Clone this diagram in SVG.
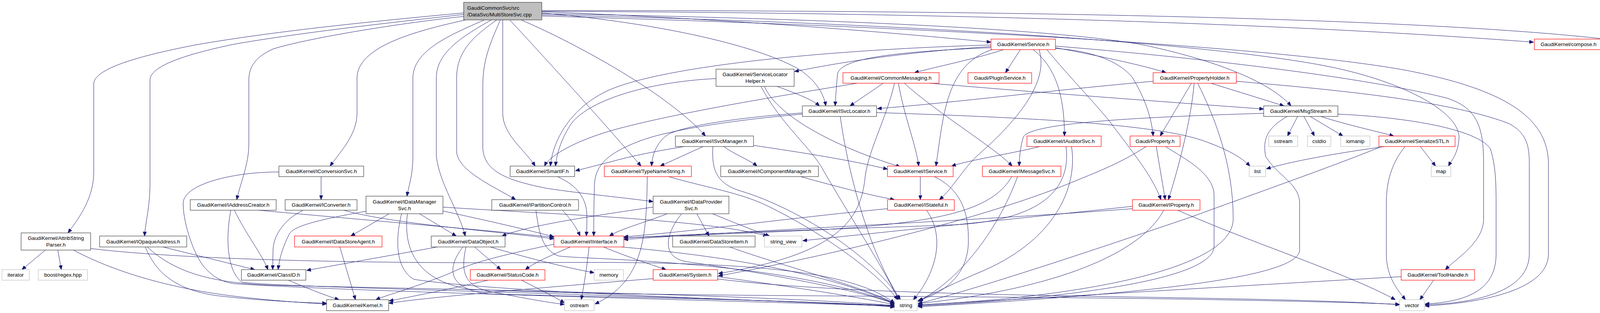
<svg xmlns="http://www.w3.org/2000/svg" width="4199" height="801" viewBox="0 0 4199 801">
<style>
.e{fill:none;stroke:#191970;stroke-width:1;marker-end:url(#a)}
.b{fill:#fff;stroke:#404040;stroke-width:1.2}
.r{fill:#fff;stroke:#ff0000;stroke-width:1.2}
.g{fill:#fff;stroke:#bfbfbf;stroke-width:1.2}
.rt{fill:#bfbfbf;stroke:#404040;stroke-width:1.2}
text{font-family:"Liberation Sans",Arial,Helvetica,sans-serif;font-size:13.33px;fill:#000;text-anchor:middle}
text.l{text-anchor:start}
</style>
<defs>
<marker id="a" markerWidth="11" markerHeight="9" refX="11" refY="4.5" orient="auto" markerUnits="userSpaceOnUse"><path d="M0,0 L11,4.5 L0,9 z" fill="#191970" stroke="#191970" stroke-width="1"/></marker>
</defs>
<rect x="0" y="0" width="4199" height="801" fill="#fff"/>
<g id="edges">
<path class="e" d="M1187,33 C950,55 700,80 500,115 C330,148 240,180 240,215 L240,440 C240,505 205,555 174,596"/>
<path class="e" d="M1187,37 C980,60 760,85 600,113 C470,140 384,170 384,205 L384,470 C384,530 372,570 370,604"/>
<path class="e" d="M1187,42 C1000,62 780,100 700,125 C655,145 637,170 637,205 L637,370 C637,420 615,470 606,511"/>
<path class="e" d="M1192,51 C1060,80 914,120 914,200 L914,290 C914,345 870,390 845,425"/>
<path class="e" d="M1240,51 C1150,90 1057,130 1057,200 L1057,400 C1057,450 1045,480 1042,502"/>
<path class="e" d="M1258,51 C1170,100 1117,140 1117,200 L1117,400 C1125,470 1175,540 1191,604"/>
<path class="e" d="M1272,51 C1200,100 1169,140 1169,200 L1169,390 C1175,440 1270,480 1320,511"/>
<path class="e" d="M1281,51 C1250,120 1236,160 1236,220 L1236,380 C1240,440 1300,462 1400,482 C1500,497 1600,506 1672,516"/>
<path class="e" d="M1287,51 L1287,290 C1287,345 1345,385 1370,425"/>
<path class="e" d="M1305,51 C1420,175 1560,330 1641,425"/>
<path class="e" d="M1334,51 C1450,100 1700,230 1806,348"/>
<path class="e" d="M1387,33 C1700,60 1950,120 2050,180 C2085,205 2108,235 2114,271"/>
<path class="e" d="M1387,30 C1900,50 2300,85 2537,108"/>
<path class="e" d="M1387,35 C2300,50 2800,85 2950,120 C3150,165 3260,220 3305,271"/>
<path class="e" d="M1387,29 C2400,32 3300,60 3926,108"/>
<path class="e" d="M1387,27 C2400,26 3600,40 4127,102"/>
<path class="e" d="M1387,38 C2300,58 3100,110 3400,170 C3600,210 3740,290 3735,355 C3732,395 3716,410 3708,425"/>
<path class="e" d="M1387,41 C2500,72 3300,125 3600,180 C3850,228 3964,300 3964,420 L3964,650 C3964,740 3800,775 3648,783"/>
<path class="e" d="M2569,127 C2500,150 2400,170 2341,186"/>
<path class="e" d="M2612,127 L2574,186"/>
<path class="e" d="M2537,119 C2300,135 2150,160 2034,183"/>
<path class="e" d="M2537,122 C2300,132 2150,148 2144,190 C2141,225 2139,250 2138,271"/>
<path class="e" d="M2537,115 C2100,128 1700,170 1560,230 C1460,275 1415,360 1409,425"/>
<path class="e" d="M2702,122 C2800,140 2930,168 2985,186"/>
<path class="e" d="M2702,124 C2800,130 2870,160 2900,200 C2930,250 2948,300 2952,348"/>
<path class="e" d="M2680,127 C2740,200 2800,260 2840,310 C2900,390 2950,450 2972,511"/>
<path class="e" d="M2645,127 C2700,170 2725,240 2725,348"/>
<path class="e" d="M2540,127 C2420,165 2415,300 2396,425"/>
<path class="e" d="M2660,127 C2690,220 2580,330 2500,400 C2460,440 2440,480 2405,511"/>
<path class="e" d="M2702,118 C3100,150 3500,200 3700,250 C3785,275 3798,330 3798,420 L3798,560 C3798,620 3730,660 3700,690"/>
<path class="e" d="M2194,213 C2000,245 1750,285 1580,330 C1470,360 1405,400 1394,425"/>
<path class="e" d="M2261,213 L2176,271"/>
<path class="e" d="M2290,213 C2270,300 2225,380 2215,450 C2205,560 2150,650 1839,700"/>
<path class="e" d="M2300,213 C2315,300 2345,370 2352,425"/>
<path class="e" d="M2315,213 C2400,290 2550,380 2591,425"/>
<path class="e" d="M2380,213 C2700,240 3000,262 3235,279"/>
<path class="e" d="M2952,208 C2700,230 2450,262 2246,278"/>
<path class="e" d="M3100,213 L3287,271"/>
<path class="e" d="M3050,213 L2970,348"/>
<path class="e" d="M3057,213 C3050,300 3020,420 2991,511"/>
<path class="e" d="M3066,213 C3110,300 3157,420 3157,560 C3157,700 2700,765 2350,780"/>
<path class="e" d="M3165,208 C3400,228 3700,255 3860,315 C3912,340 3915,380 3915,420 L3915,650 C3915,745 3780,776 3648,780"/>
<path class="e" d="M1833,201 C1650,210 1500,260 1460,320 C1435,360 1425,395 1422,425"/>
<path class="e" d="M1989,221 C2040,240 2080,255 2098,271"/>
<path class="e" d="M1957,221 C1990,300 2150,380 2305,427"/>
<path class="e" d="M1948,221 C2000,320 2080,380 2110,440 C2180,560 2270,700 2300,767"/>
<path class="e" d="M2244,288 C2600,300 2950,315 3080,360 C3150,385 3180,405 3200,425"/>
<path class="e" d="M2151,298 C2165,400 2210,620 2305,767"/>
<path class="e" d="M2054,289 C1900,300 1760,320 1712,343 C1685,360 1670,390 1668,425"/>
<path class="e" d="M2054,292 C1900,305 1720,330 1640,360 C1560,390 1525,420 1522,470 C1520,530 1520,570 1520,604"/>
<path class="e" d="M1853,375 C1880,395 1920,410 1938,425"/>
<path class="e" d="M1800,375 L1690,425"/>
<path class="e" d="M1752,375 C1690,385 1620,398 1560,415 C1520,425 1495,432 1473,437"/>
<path class="e" d="M1929,372 C2050,390 2180,410 2272,433"/>
<path class="e" d="M1825,375 C1822,430 1830,470 1900,490 C2000,520 2150,600 2250,700 C2280,730 2295,750 2300,767"/>
<path class="e" d="M2662,375 C2580,395 2480,410 2436,425"/>
<path class="e" d="M2729,375 C2740,460 2700,560 2450,575 C2200,585 1900,592 1597,609"/>
<path class="e" d="M2743,375 C2760,480 2700,620 2500,700 C2420,735 2370,760 2350,772"/>
<path class="e" d="M2960,375 L2983,511"/>
<path class="e" d="M2984,375 C3020,400 3108,440 3108,500 L3108,630 C3108,720 2700,765 2350,783"/>
<path class="e" d="M2934,375 C2880,410 2830,432 2760,460 C2550,550 2150,650 1839,706"/>
<path class="e" d="M2899,528 C2600,560 2300,590 2055,616"/>
<path class="e" d="M2899,534 C2500,565 2000,585 1597,613"/>
<path class="e" d="M2979,538 C2920,650 2700,740 2350,777"/>
<path class="e" d="M3015,538 C3200,620 3450,700 3572,767"/>
<path class="e" d="M2356,452 L2356,511"/>
<path class="e" d="M2392,452 C2470,490 2480,560 2479,620 C2478,700 2420,750 2350,769"/>
<path class="e" d="M2272,534 C2000,560 1800,590 1597,606"/>
<path class="e" d="M2372,538 C2430,620 2380,720 2338,767"/>
<path class="e" d="M2590,452 C2540,540 2400,570 2100,588 C1850,600 1680,605 1597,609"/>
<path class="e" d="M2605,452 C2550,600 2450,720 2352,770"/>
<path class="e" d="M2050,452 C2150,480 2230,500 2290,511"/>
<path class="e" d="M3235,290 C2900,300 2640,315 2620,350 C2612,375 2610,400 2609,425"/>
<path class="e" d="M3322,298 L3296,348"/>
<path class="e" d="M3338,298 L3365,348"/>
<path class="e" d="M3354,298 L3438,348"/>
<path class="e" d="M3381,298 C3450,320 3520,335 3568,348"/>
<path class="e" d="M3295,298 C3240,330 3233,360 3240,400 C3270,450 3327,470 3327,520 L3327,640 C3327,720 2800,760 2350,785"/>
<path class="e" d="M3425,292 C3600,300 3780,330 3815,380 C3828,420 3830,460 3830,520 L3830,650 C3830,740 3760,772 3648,778"/>
<path class="e" d="M3545,375 C3400,395 3300,415 3242,432"/>
<path class="e" d="M3636,375 L3675,425"/>
<path class="e" d="M3597,375 C3560,420 3549,470 3549,520 L3549,650 C3549,710 3580,745 3598,767"/>
<path class="e" d="M3532,377 C3400,430 3200,500 3050,555 C2800,640 2500,740 2350,777"/>
<path class="e" d="M3587,708 C3200,730 2700,760 2350,781"/>
<path class="e" d="M3670,717 L3635,767"/>
<path class="e" d="M1657,452 C1655,600 1650,720 1523,778"/>
<path class="e" d="M1712,452 C1800,478 1880,490 1950,520 C2100,590 2250,700 2298,767"/>
<path class="e" d="M1868,632 C2000,680 2200,730 2290,776"/>
<path class="e" d="M116,640 L56,690"/>
<path class="e" d="M148,640 L157,690"/>
<path class="e" d="M188,640 C300,700 450,740 600,758 C700,770 780,775 836,778"/>
<path class="e" d="M232,636 C500,668 1000,674 1400,672 C1900,668 2180,690 2290,776"/>
<path class="e" d="M417,632 L652,690"/>
<path class="e" d="M372,632 C400,700 450,740 550,756 C650,768 760,774 836,776"/>
<path class="e" d="M377,632 C450,700 550,725 700,730 C1200,742 1900,752 2290,782"/>
<path class="e" d="M600,538 C630,600 670,650 686,690"/>
<path class="e" d="M662,538 C900,560 1200,585 1418,607"/>
<path class="e" d="M591,538 C575,620 585,700 620,722 C700,735 1500,750 2290,782"/>
<path class="e" d="M822,452 L822,511"/>
<path class="e" d="M714,440 C600,440 470,470 469,520 C468,560 490,640 520,680 C545,710 570,722 600,726 C900,746 1700,765 2290,783"/>
<path class="e" d="M776,538 C730,560 700,600 699,640 L698,690"/>
<path class="e" d="M880,538 C1000,572 1250,590 1418,611"/>
<path class="e" d="M940,540 C800,565 750,580 740,600 C725,630 715,660 712,690"/>
<path class="e" d="M996,547 L898,604"/>
<path class="e" d="M1074,547 L1168,604"/>
<path class="e" d="M1134,540 C1250,565 1350,588 1418,606"/>
<path class="e" d="M1134,530 C1400,548 1800,560 1965,604"/>
<path class="e" d="M1028,547 C1010,620 1015,690 1060,715 C1300,750 1900,765 2290,784"/>
<path class="e" d="M1043,547 C1030,650 1080,720 1200,740 C1600,760 2300,755 3000,765 C3300,770 3500,775 3583,779"/>
<path class="e" d="M870,632 L910,767"/>
<path class="e" d="M1120,632 L785,692"/>
<path class="e" d="M1215,632 L1282,690"/>
<path class="e" d="M1255,632 C1350,660 1450,685 1521,698"/>
<path class="e" d="M1193,632 C1180,690 1185,730 1250,745 C1350,765 1410,775 1445,779"/>
<path class="e" d="M1185,632 C1140,690 1150,740 1250,752 C1600,762 2100,768 2290,786"/>
<path class="e" d="M1440,538 C1460,560 1475,580 1485,604"/>
<path class="e" d="M1372,538 C1380,600 1390,640 1430,655 C1500,665 2000,665 2290,777"/>
<path class="e" d="M1708,547 C1650,570 1590,585 1560,604"/>
<path class="e" d="M1672,530 C1500,555 1350,578 1285,604"/>
<path class="e" d="M1784,547 L1815,604"/>
<path class="e" d="M1824,547 C1880,570 1930,590 1970,604"/>
<path class="e" d="M1745,547 C1702,600 1692,660 1760,670 C1900,690 2200,740 2290,778"/>
<path class="e" d="M1427,452 C1480,475 1500,510 1502,545 C1503,570 1502,590 1501,604"/>
<path class="e" d="M1418,625 C1300,650 1210,670 1150,700 C1050,740 990,755 962,767"/>
<path class="e" d="M1460,632 C1420,650 1370,670 1345,690"/>
<path class="e" d="M1508,632 C1503,680 1495,730 1488,767"/>
<path class="e" d="M1545,632 C1600,655 1660,675 1705,690"/>
<path class="e" d="M1590,632 C1800,650 2100,690 2290,777"/>
<path class="e" d="M1672,713 C1400,735 1100,760 995,776"/>
<path class="e" d="M1837,708 C2000,730 2200,760 2290,780"/>
<path class="e" d="M1837,714 C2200,758 2800,755 3300,768 C3450,772 3530,776 3583,780"/>
<path class="e" d="M1250,717 C1150,740 1050,760 996,770"/>
<path class="e" d="M1335,717 C1380,740 1420,760 1445,775"/>
<path class="e" d="M738,717 C780,735 830,755 868,767"/>
</g>
<g id="n_root"><rect class="rt" x="1187" y="6" width="200" height="45"/><text class="l" x="1196" y="24.5">GaudiCommonSvc/src</text><text class="l" x="1196" y="41.5">/DataSvc/MultiStoreSvc.cpp</text></g>
<g id="n_service"><rect class="r" x="2537" y="100" width="165" height="27"/><text x="2619.5" y="118">GaudiKernel/Service.h</text></g>
<g id="n_compose"><rect class="r" x="3928" y="100" width="175" height="27"/><text x="4015.5" y="118">GaudiKernel/compose.h</text></g>
<g id="n_variant"><rect class="g" x="4127" y="100" width="68" height="27"/><text x="4161" y="118">variant</text></g>
<g id="n_commonmessaging"><rect class="r" x="2158" y="186" width="246" height="27"/><text x="2281" y="204">GaudiKernel/CommonMessaging.h</text></g>
<g id="n_pluginservice"><rect class="r" x="2478" y="186" width="163" height="27"/><text x="2559.5" y="204">Gaudi/PluginService.h</text></g>
<g id="n_propertyholder"><rect class="r" x="2952" y="186" width="213" height="27"/><text x="3058.5" y="204">GaudiKernel/PropertyHolder.h</text></g>
<g id="n_servicelocatorhelper"><rect class="b" x="1833" y="177" width="200" height="44"/><text x="1933" y="195">GaudiKernel/ServiceLocator</text><text x="1933" y="212">Helper.h</text></g>
<g id="n_isvclocator"><rect class="b" x="2054" y="271" width="190" height="27"/><text x="2149" y="289">GaudiKernel/ISvcLocator.h</text></g>
<g id="n_msgstream"><rect class="b" x="3235" y="271" width="190" height="27"/><text x="3330" y="289">GaudiKernel/MsgStream.h</text></g>
<g id="n_isvcmanager"><rect class="b" x="1729" y="348" width="200" height="27"/><text x="1829" y="366">GaudiKernel/ISvcManager.h</text></g>
<g id="n_iauditorsvc"><rect class="r" x="2629" y="348" width="190" height="27"/><text x="2724" y="366">GaudiKernel/IAuditorSvc.h</text></g>
<g id="n_property"><rect class="r" x="2893" y="348" width="128" height="27"/><text x="2957" y="366">Gaudi/Property.h</text></g>
<g id="n_sstream"><rect class="g" x="3248" y="348" width="74" height="27"/><text x="3285" y="366">sstream</text></g>
<g id="n_cstdio"><rect class="g" x="3347" y="348" width="60" height="27"/><text x="3377" y="366">cstdio</text></g>
<g id="n_iomanip"><rect class="g" x="3432" y="348" width="75" height="27"/><text x="3469.5" y="366">iomanip</text></g>
<g id="n_serializestl"><rect class="r" x="3530" y="348" width="195" height="27"/><text x="3627.5" y="366">GaudiKernel/SerializeSTL.h</text></g>
<g id="n_iconversionsvc"><rect class="b" x="714" y="425" width="217" height="27"/><text x="822.5" y="443">GaudiKernel/IConversionSvc.h</text></g>
<g id="n_smartif"><rect class="b" x="1306" y="425" width="165" height="27"/><text x="1388.5" y="443">GaudiKernel/SmartIF.h</text></g>
<g id="n_typenamestring"><rect class="r" x="1547" y="425" width="223" height="27"/><text x="1658.5" y="443">GaudiKernel/TypeNameString.h</text></g>
<g id="n_icomponentmanager"><rect class="b" x="1845" y="425" width="250" height="27"/><text x="1970" y="443">GaudiKernel/IComponentManager.h</text></g>
<g id="n_iservice"><rect class="r" x="2272" y="425" width="168" height="27"/><text x="2356" y="443">GaudiKernel/IService.h</text></g>
<g id="n_imessagesvc"><rect class="r" x="2515" y="425" width="201" height="27"/><text x="2615.5" y="443">GaudiKernel/IMessageSvc.h</text></g>
<g id="n_list"><rect class="g" x="3198" y="425" width="42" height="27"/><text x="3219" y="443">list</text></g>
<g id="n_map"><rect class="g" x="3664" y="425" width="50" height="27"/><text x="3689" y="443">map</text></g>
<g id="n_iaddresscreator"><rect class="b" x="487" y="511" width="220" height="27"/><text x="597" y="529">GaudiKernel/IAddressCreator.h</text></g>
<g id="n_iconverter"><rect class="b" x="730" y="511" width="184" height="27"/><text x="822" y="529">GaudiKernel/IConverter.h</text></g>
<g id="n_idatamanagersvc"><rect class="b" x="937" y="502" width="197" height="45"/><text x="1035.5" y="520.5">GaudiKernel/IDataManager</text><text x="1035.5" y="537.5">Svc.h</text></g>
<g id="n_ipartitioncontrol"><rect class="b" x="1259" y="511" width="222" height="27"/><text x="1370" y="529">GaudiKernel/IPartitionControl.h</text></g>
<g id="n_idataprovidersvc"><rect class="b" x="1672" y="502" width="194" height="45"/><text x="1769" y="520.5">GaudiKernel/IDataProvider</text><text x="1769" y="537.5">Svc.h</text></g>
<g id="n_istateful"><rect class="r" x="2272" y="511" width="171" height="27"/><text x="2357.5" y="529">GaudiKernel/IStateful.h</text></g>
<g id="n_iproperty"><rect class="r" x="2899" y="511" width="173" height="27"/><text x="2985.5" y="529">GaudiKernel/IProperty.h</text></g>
<g id="n_attribstringparser"><rect class="b" x="54" y="596" width="178" height="44"/><text x="143" y="614">GaudiKernel/AttribString</text><text x="143" y="631">Parser.h</text></g>
<g id="n_iopaqueaddress"><rect class="b" x="255" y="604" width="223" height="28"/><text x="366.5" y="622.5">GaudiKernel/IOpaqueAddress.h</text></g>
<g id="n_idatastoreagent"><rect class="r" x="754" y="604" width="224" height="28"/><text x="866" y="622.5">GaudiKernel/IDataStoreAgent.h</text></g>
<g id="n_dataobject"><rect class="b" x="1104" y="604" width="189" height="28"/><text x="1198.5" y="622.5">GaudiKernel/DataObject.h</text></g>
<g id="n_iinterface"><rect class="r" x="1418" y="604" width="179" height="28"/><text x="1507.5" y="622.5">GaudiKernel/IInterface.h</text></g>
<g id="n_datastoreitem"><rect class="b" x="1722" y="604" width="211" height="28"/><text x="1827.5" y="622.5">GaudiKernel/DataStoreItem.h</text></g>
<g id="n_string_view"><rect class="g" x="1957" y="604" width="96" height="28"/><text x="2005" y="622.5">string_view</text></g>
<g id="n_iterator"><rect class="g" x="5" y="690" width="70" height="27"/><text x="40" y="708">iterator</text></g>
<g id="n_boost_regex"><rect class="g" x="98" y="690" width="126" height="27"/><text x="161" y="708">boost/regex.hpp</text></g>
<g id="n_classid"><rect class="b" x="618" y="690" width="165" height="27"/><text x="700.5" y="708">GaudiKernel/ClassID.h</text></g>
<g id="n_statuscode"><rect class="r" x="1204" y="690" width="191" height="27"/><text x="1299.5" y="708">GaudiKernel/StatusCode.h</text></g>
<g id="n_memory"><rect class="g" x="1521" y="690" width="75" height="27"/><text x="1558.5" y="708">memory</text></g>
<g id="n_system"><rect class="r" x="1672" y="690" width="165" height="27"/><text x="1754.5" y="708">GaudiKernel/System.h</text></g>
<g id="n_toolhandle"><rect class="r" x="3587" y="690" width="188" height="27"/><text x="3681" y="708">GaudiKernel/ToolHandle.h</text></g>
<g id="n_kernel"><rect class="b" x="836" y="767" width="159" height="28"/><text x="915.5" y="785.5">GaudiKernel/Kernel.h</text></g>
<g id="n_ostream"><rect class="g" x="1445" y="767" width="76" height="28"/><text x="1483" y="785.5">ostream</text></g>
<g id="n_string"><rect class="g" x="2290" y="767" width="58" height="28"/><text x="2319" y="785.5">string</text></g>
<g id="n_vector"><rect class="g" x="3583" y="767" width="63" height="28"/><text x="3614.5" y="785.5">vector</text></g>
</svg>
